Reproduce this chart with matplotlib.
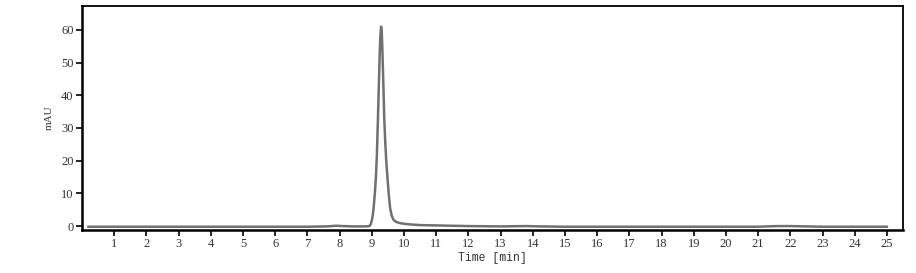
import matplotlib
matplotlib.use("Agg")
import matplotlib.pyplot as plt

# Chromatogram points (time in min, signal in mAU)
time_min = [0.2, 2.0, 4.0, 6.0, 7.0, 7.6, 7.9, 8.1, 8.4, 8.8, 8.93, 8.97, 9.00, 9.03, 9.06,
            9.10, 9.13, 9.16, 9.19, 9.22, 9.25, 9.27, 9.29, 9.31, 9.33, 9.36, 9.39,
            9.42, 9.45, 9.49, 9.53, 9.57, 9.62, 9.67, 9.75, 9.88, 10.0, 10.2, 10.5,
            11.0, 11.5, 12.0, 13.0, 13.8, 14.2, 15.0, 17.0, 19.0, 21.0, 21.6, 22.0,
            22.5, 23.0, 24.0, 25.0]
signal_mau = [-0.2, -0.2, -0.2, -0.2, -0.2, -0.1, 0.1, 0.0, -0.1, -0.1, 0.0, 0.6, 1.6, 3.2, 5.8,
              10.5, 15.0, 22.0, 32.0, 43.0, 53.5, 58.5, 61.0, 59.5, 54.0, 43.5, 32.5,
              25.5, 20.0, 14.5, 9.5, 5.5, 3.2, 2.0, 1.3, 0.9, 0.7, 0.5, 0.3,
              0.2, 0.1, 0.0, -0.1, 0.0, -0.1, -0.2, -0.2, -0.2, -0.2, 0.0, 0.0,
              -0.1, -0.2, -0.2, -0.2]

x_ticks = list(range(1, 26))
y_ticks = [0, 10, 20, 30, 40, 50, 60]

plt.rcParams['font.family'] = ['Liberation Serif', 'DejaVu Serif']

fig = plt.figure(figsize=(9.16, 2.73), dpi=100)
ax = fig.add_axes([0.0895, 0.1575, 0.8963, 0.8205])

ax.plot(time_min, signal_mau, color='#707070', lw=1.8, solid_joinstyle='round')

ax.set_xlim(0, 25.5)
ax.set_ylim(-1.2, 67.3)
ax.set_xticks(x_ticks)
ax.set_yticks(y_ticks)
ax.tick_params(axis='both', direction='out', length=4, width=1.2, labelsize=9,
               colors='black', labelcolor='#333333', pad=2)

for side in ['left', 'bottom']:
    ax.spines[side].set_linewidth(1.8)
for side in ['top', 'right']:
    ax.spines[side].set_linewidth(1.3)

ax.set_xlabel('Time [min]', fontsize=8.3, color='#333333', labelpad=1,
              family=['Liberation Mono', 'DejaVu Sans Mono'])
ax.set_ylabel('mAU', fontsize=8, color='#333333', labelpad=5)

fig.savefig('out.png', dpi=100)
